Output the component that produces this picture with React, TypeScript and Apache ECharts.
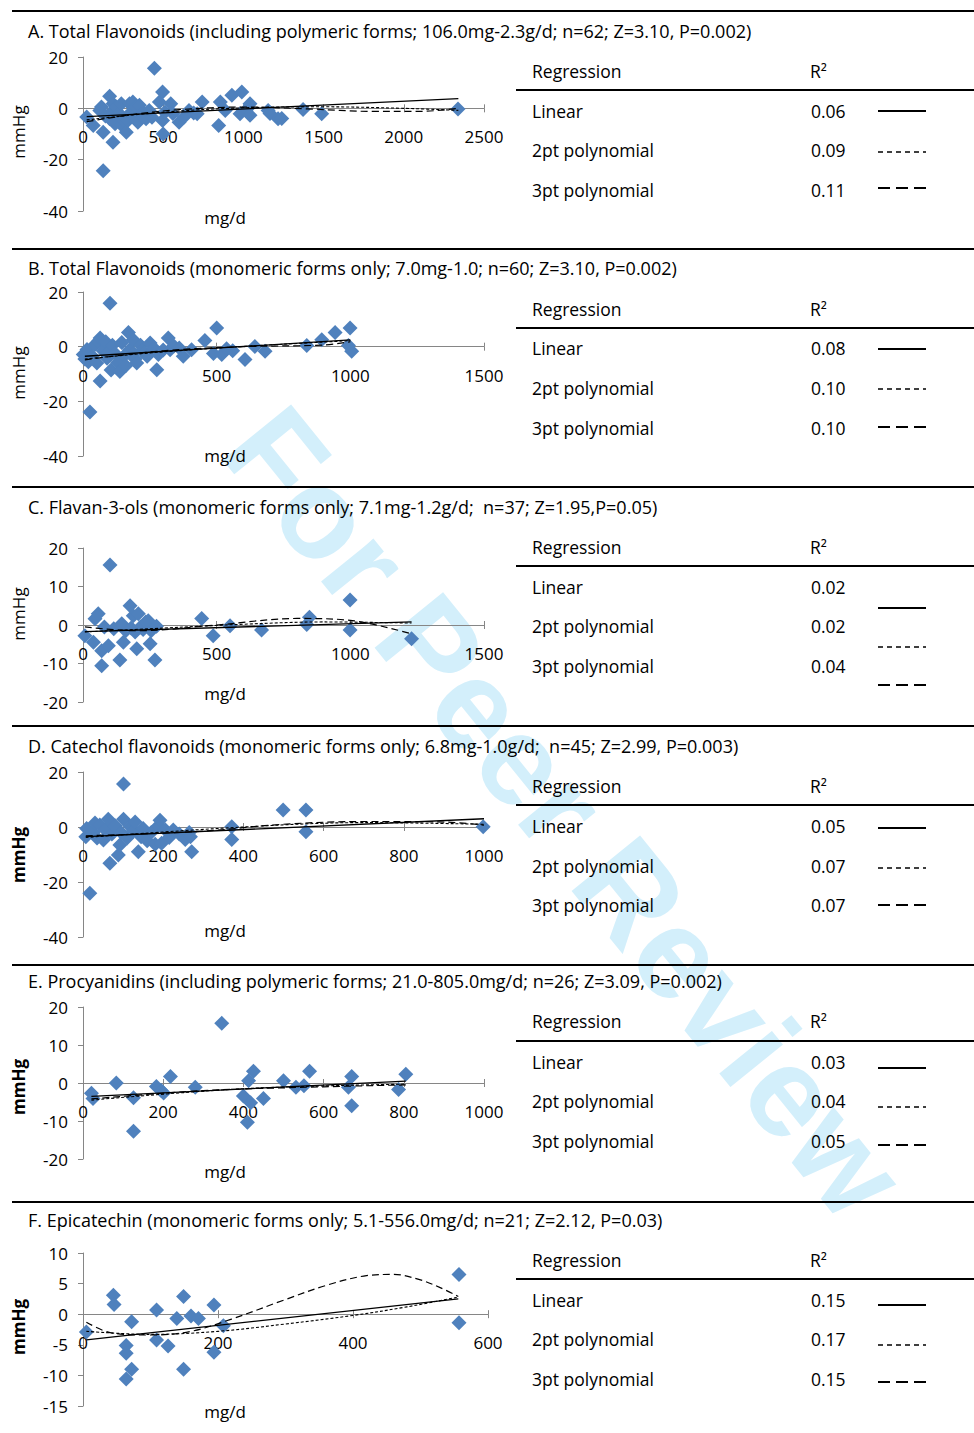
import React, { useEffect, useRef } from "react";
import * as echarts from "echarts";

type Pt = [number, number];

// ---- A. Total flavonoids (incl. polymeric forms) ----
const pointsA: Pt[] = [
  [23, -3.4], [64, -6.7], [105, -0.8], [115, 0.5], [126, -9.3], [126, -24.3], [140, -3], [166, 4.7],
  [166, -4.1], [176, -1.5], [187, -13.2], [187, 1.8], [200, -6], [208, 0.5], [228, -2.1], [239, 1.8],
  [240, -6.5], [250, -4.5], [270, -9.3], [280, -4.7], [290, 1.8], [301, -1.4], [311, 2.5], [320, -3],
  [331, 0.5], [342, -5.4], [352, 1.2], [362, -2.7], [383, -2.1], [393, -4.1], [413, -0.8], [430, -3.5],
  [445, 15.6], [476, 2.5], [496, 6.4], [496, -4.7], [500, -10], [510, -1.5], [547, 1.8], [560, -2],
  [599, -5.4], [630, -3.4], [661, -0.8], [690, -1.8], [712, -2.1], [743, 2.5], [846, -6.7], [856, 2.5],
  [887, -0.8], [928, 5.1], [979, -2.1], [990, 6.4], [1020, -0.5], [1041, 1.8], [1041, -2.7], [1154, -0.8],
  [1166, -2], [1216, -4.1], [1239, -4], [1372, -0.5], [1488, -2.1], [2338, -0.3],
];
const linearA: Pt[] = [[23, -3.2], [2340, 3.8]];
const quadA: Pt[] = [[23, -4.5], [500, -1.5], [1000, 0.2], [1500, 0.6], [2000, 0], [2340, -0.8]];
const cubicA: Pt[] = [[23, -5.2], [300, -2.5], [600, -0.5], [1000, 0.5], [1400, -0.2], [1800, -1.2], [2100, -1.2], [2340, 0]];

// ---- B. Total flavonoids (monomeric forms only) ----
const pointsB: Pt[] = [
  [1, -2.9], [7, -4.5], [15, -1], [20, -5.5], [26, -23.9], [35, -3.5], [45, 0.8], [52, -6], [58, 2],
  [64, 3.2], [64, -12.6], [75, -1.5], [85, 1.8], [90, -4.2], [95, -2], [101, 15.9], [105, -8.5], [110, 0.5],
  [120, -2.5], [130, -5.8], [138, -9.1], [145, 1.5], [155, -3.2], [160, -7], [170, 5.2], [175, -1],
  [185, -3], [188, 2.5], [195, -4.5], [201, -6], [215, 0.5], [220, -1.5], [230, -2], [240, -3.5],
  [251, 1.3], [265, -0.5], [276, -8.4], [282, -2.9], [300, -1.2], [319, 3.2], [326, -1.1], [340, 0.2],
  [360, -0.5], [375, -3.5], [406, -1.1], [456, 2.3], [488, -2.5], [500, 6.8], [519, -2.9], [537, -0.8],
  [560, -1.5], [606, -4.7], [643, 0.1], [681, -1.7], [837, 0.4], [893, 2.5], [943, 5.2], [993, 0.4],
  [999, 6.8], [1005, -1.7],
];
const linearB: Pt[] = [[7, -3.5], [1000, 2.5]];
const quadB: Pt[] = [[7, -4.5], [250, -2.3], [500, -0.5], [750, 0.9], [1000, 2.2]];
const cubicB: Pt[] = [[7, -4.8], [300, -1.5], [600, 0], [900, 0.6], [1000, 1.8]];

// ---- C. Flavan-3-ols (monomeric forms only) ----
const pointsC: Pt[] = [
  [7, -2.8], [39, -4.5], [45, 1.6], [57, 2.9], [70, -10.6], [70, -6.7], [80, -0.5], [95, -5.4], [101, 15.6],
  [115, -1], [138, -9.1], [145, 0.3], [151, -4.5], [160, -1.5], [176, 5.0], [180, -0.8], [188, 2.4],
  [195, -1.8], [201, -6.2], [207, 2.9], [215, -0.5], [225, -1.2], [235, 0.8], [244, 1.1], [251, -4.9],
  [255, -1.5], [269, -9.1], [275, -0.3], [444, 1.7], [487, -2.8], [550, -0.2], [668, -1.3], [837, 0.1],
  [847, 2.0], [999, 6.5], [999, -1.3], [1229, -3.6],
];
const linearC: Pt[] = [[7, -1.7], [1229, 0.8]];
const quadC: Pt[] = [[7, -1.8], [300, -0.8], [600, 0.2], [900, 0.8], [1229, 0.5]];
const cubicC: Pt[] = [[7, -0.5], [200, -1.5], [500, 0], [800, 1.7], [1000, 1.2], [1229, -2.3]];

// ---- D. Catechol flavonoids (monomeric forms only) ----
const pointsD: Pt[] = [
  [7, -3.5], [9, -0.5], [17, -24.1], [25, -2], [30, 1.5], [35, -4], [42, 0.7], [51, -4.7], [55, -1],
  [63, 2.8], [67, -13.2], [72, -2.5], [80, 0.5], [88, -10.2], [92, -6.5], [95, -2], [101, 15.6], [101, 2.8],
  [110, -4], [118, 0.2], [125, -1.5], [130, 1.8], [138, -9], [145, -3.5], [150, -0.5], [160, -5],
  [170, -2], [180, -6.3], [188, 0.5], [192, 2.5], [196, -5.9], [205, -1], [215, -3.8], [225, -1.1],
  [240, -2.5], [255, -4.5], [265, -2], [268, -3.5], [271, -9], [371, 0.1], [371, -4.5], [499, 6.2],
  [556, 6.2], [556, -1.7], [998, 0.1],
];
const linearD: Pt[] = [[7, -3.5], [1000, 3]];
const quadD: Pt[] = [[7, -3.8], [400, 0], [700, 1.6], [1000, 1]];
const cubicD: Pt[] = [[7, -3.2], [300, -1.5], [500, 1], [700, 2], [900, 1.8], [1000, 0.7]];

// ---- E. Procyanidins (incl. polymeric forms) ----
const pointsE: Pt[] = [
  [21, -2.7], [25, -4.1], [83, 0], [126, -3.9], [126, -12.7], [183, -0.9], [195, -2.0], [201, -2.6],
  [218, 1.7], [280, -1.1], [346, 15.7], [400, -3.4], [410, -10.3], [413, 0.6], [418, -5.2], [425, 3.1],
  [450, -4.1], [500, 0.6], [531, -1.1], [551, -0.7], [565, 3.1], [662, -1.1], [670, 1.7], [670, -6],
  [787, -1.7], [805, 2.3],
];
const linearE: Pt[] = [[21, -3.5], [805, 0.5]];
const quadE: Pt[] = [[21, -4.5], [400, -1.5], [805, -0.3]];
const cubicE: Pt[] = [[21, -4.2], [300, -2], [600, -1], [805, -0.5]];

// ---- F. Epicatechin (monomeric forms only) ----
const pointsF: Pt[] = [
  [5, -2.9], [45, 3.1], [46, 1.6], [64, -5.1], [64, -6.4], [64, -10.6], [72, -1.25], [72, -9],
  [109, 0.7], [109, -4.2], [126, -5.2], [139, -0.7], [149, 2.9], [149, -9], [160, -0.3], [171, -0.7],
  [194, 1.5], [194, -6.2], [208, -1.9], [557, 6.5], [557, -1.4],
];
const linearF: Pt[] = [[5, -4.2], [556, 2.5]];
const quadF: Pt[] = [[5, -2.8], [100, -3.3], [200, -2.8], [300, -1.6], [400, -0.2], [480, 1.2], [556, 2.8]];
const cubicF: Pt[] = [
  [5, -1.3], [40, -3], [100, -3.4], [160, -2.8], [220, -0.8], [300, 2.4], [360, 4.7], [420, 6.3],
  [460, 6.5], [500, 5.6], [530, 4.3], [556, 2.9],
];

const titles = [
  "A. Total Flavonoids (including polymeric forms; 106.0mg-2.3g/d; n=62; Z=3.10, P=0.002)",
  "B. Total Flavonoids (monomeric forms only; 7.0mg-1.0; n=60; Z=3.10, P=0.002)",
  "C. Flavan-3-ols (monomeric forms only; 7.1mg-1.2g/d;  n=37; Z=1.95,P=0.05)",
  "D. Catechol flavonoids (monomeric forms only; 6.8mg-1.0g/d;  n=45; Z=2.99, P=0.003)",
  "E. Procyanidins (including polymeric forms; 21.0-805.0mg/d; n=26; Z=3.09, P=0.002)",
  "F. Epicatechin (monomeric forms only; 5.1-556.0mg/d; n=21; Z=2.12, P=0.03)",
];

const regressionNames = ["Linear", "2pt polynomial", "3pt polynomial"];
const rSquaredA = ["0.06", "0.09", "0.11"];
const rSquaredB = ["0.08", "0.10", "0.10"];
const rSquaredC = ["0.02", "0.02", "0.04"];
const rSquaredD = ["0.05", "0.07", "0.07"];
const rSquaredE = ["0.03", "0.04", "0.05"];
const rSquaredF = ["0.15", "0.17", "0.15"];

// axis ranges: [xMax, xInterval, yMin, yMax, yInterval]
const axisA = [2500, 500, -40, 20, 20];
const axisB = [1500, 500, -40, 20, 20];
const axisC = [1500, 500, -20, 20, 10];
const axisD = [1000, 200, -40, 20, 20];
const axisE = [1000, 200, -20, 20, 10];
const axisF = [600, 200, -15, 10, 5];

const panels = [
  { pts: pointsA, lin: linearA, quad: quadA, cub: cubicA, r2: rSquaredA, ax: axisA },
  { pts: pointsB, lin: linearB, quad: quadB, cub: cubicB, r2: rSquaredB, ax: axisB },
  { pts: pointsC, lin: linearC, quad: quadC, cub: cubicC, r2: rSquaredC, ax: axisC },
  { pts: pointsD, lin: linearD, quad: quadD, cub: cubicD, r2: rSquaredD, ax: axisD },
  { pts: pointsE, lin: linearE, quad: quadE, cub: cubicE, r2: rSquaredE, ax: axisE },
  { pts: pointsF, lin: linearF, quad: quadF, cub: cubicF, r2: rSquaredF, ax: axisF },
];

// page layout of each panel (pixels)
const layout = [
  { sep: 11, title: 31, gTop: 57, gBottom: 211, right: 484, reg: 71, hline: 90, rows: [111, 150, 190], samples: [111, 152, 188], mg: 217, mm: 132, bold: false },
  { sep: 249, title: 268, gTop: 292, gBottom: 456, right: 484, reg: 309, hline: 328, rows: [348, 388, 428], samples: [349, 389, 427], mg: 455, mm: 373, bold: false },
  { sep: 487, title: 507, gTop: 548, gBottom: 702, right: 484, reg: 547, hline: 566, rows: [587, 626, 666], samples: [608, 647, 685], mg: 693, mm: 614, bold: false },
  { sep: 726, title: 746, gTop: 772, gBottom: 937, right: 484, reg: 786, hline: 805, rows: [826, 866, 905], samples: [828, 868, 905], mg: 930, mm: 855, bold: true },
  { sep: 965, title: 981, gTop: 1007, gBottom: 1159, right: 484, reg: 1021, hline: 1041, rows: [1062, 1101, 1141], samples: [1068, 1107, 1145], mg: 1171, mm: 1087, bold: true },
  { sep: 1202, title: 1220, gTop: 1253, gBottom: 1406, right: 488, reg: 1260, hline: 1279, rows: [1300, 1339, 1379], samples: [1305, 1345, 1382], mg: 1411, mm: 1327, bold: true },
];

const FONT = '"Open Sans", Lato, sans-serif';
const AXIS_GREY = "#868686";
const MARKER_BLUE = "#4F81BD";

function text(x: number, y: number, s: string, opts: any = {}) {
  const align = opts.align || "left";
  return {
    type: "text",
    x,
    y,
    z: 10,
    rotation: opts.rotation || 0,
    style: {
      text: s,
      fontFamily: opts.fontFamily || FONT,
      fontSize: opts.fontSize || 17,
      fontWeight: opts.fontWeight || "normal",
      fill: opts.fill || "#000",
      textAlign: align,
      align,
      textVerticalAlign: "middle",
      verticalAlign: "middle",
    },
  };
}

function hline(x1: number, x2: number, y: number, width: number, dash?: number[]) {
  return {
    type: "line",
    z: 10,
    shape: { x1, y1: y, x2, y2: y },
    style: { stroke: "#000", lineWidth: width, lineDash: dash || null },
  };
}

export default function App() {
  const ref = useRef<HTMLDivElement>(null);

  useEffect(() => {
    if (!ref.current) return;
    const chart = echarts.init(ref.current, undefined, { renderer: "svg" });

    const grids: any[] = [];
    const xAxes: any[] = [];
    const tickAxes: any[] = [];
    const yAxes: any[] = [];
    const series: any[] = [];
    const graphics: any[] = [];

    // watermark
    graphics.push({
      type: "text",
      x: 565,
      y: 812,
      z: 0,
      rotation: (-51 * Math.PI) / 180,
      style: {
        text: "For Peer Review",
        fontFamily: '"Liberation Sans", Arial, sans-serif',
        fontWeight: "bold",
        fontSize: 128,
        fill: "#d3effb",
        textAlign: "center",
        align: "center",
        textVerticalAlign: "middle",
        verticalAlign: "middle",
      },
    });

    panels.forEach((p, i) => {
      const L = layout[i];
      const [xMax, xInt, yMin, yMax, yInt] = p.ax;
      const h = L.gBottom - L.gTop;
      // lift the horizontal axis from the grid's bottom edge up to the y = 0 line
      const zeroLift = ((0 - yMin) / (yMax - yMin)) * h;
      grids.push({ left: 83, top: L.gTop, width: L.right - 83, height: h, containLabel: false });
      const base = {
        gridIndex: i,
        type: "value",
        position: "bottom",
        offset: -zeroLift,
        min: 0,
        max: xMax,
        interval: xInt,
        splitLine: { show: false },
      };
      xAxes.push({
        ...base,
        axisLine: { show: true, onZero: false, lineStyle: { color: AXIS_GREY, width: 1 } },
        axisTick: { show: true, length: 4, lineStyle: { color: AXIS_GREY } },
        axisLabel: {
          margin: 20,
          fontSize: 17,
          color: "#000",
          fontFamily: FONT,
          formatter: (v: number) => String(v),
        },
      });
      // upper half of the crossing tick marks
      tickAxes.push({
        ...base,
        axisLine: { show: false, onZero: false },
        axisTick: { show: true, inside: true, length: 4, lineStyle: { color: AXIS_GREY } },
        axisLabel: { show: false },
      });
      yAxes.push({
        gridIndex: i,
        type: "value",
        min: yMin,
        max: yMax,
        interval: yInt,
        axisLine: { show: true, onZero: false, lineStyle: { color: AXIS_GREY, width: 1 } },
        axisTick: { show: true, length: 5, lineStyle: { color: AXIS_GREY } },
        axisLabel: { margin: 15, fontSize: 17, color: "#000", fontFamily: FONT },
        splitLine: { show: false },
      });
      series.push({
        type: "scatter",
        xAxisIndex: i,
        yAxisIndex: i,
        data: p.pts,
        symbol: "diamond",
        symbolSize: 15,
        itemStyle: { color: MARKER_BLUE, opacity: 1 },
        z: 3,
      });
      const trend = (data: Pt[], type: any, width: number) => ({
        type: "line",
        xAxisIndex: i,
        yAxisIndex: i,
        data,
        symbol: "none",
        showSymbol: false,
        smooth: 0.35,
        lineStyle: { color: "#000", width, type },
        z: 4,
      });
      series.push(trend(p.lin, "solid", 1.3));
      series.push(trend(p.quad, [3, 2], 1.1));
      series.push(trend(p.cub, [7, 4], 1.2));

      // separator, title, axis names
      graphics.push(hline(12, 974, L.sep, 2));
      graphics.push(text(28, L.title, titles[i], { fontSize: 18 }));
      graphics.push(text(225, L.mg, "mg/d", { align: "center" }));
      graphics.push(
        text(18, L.mm, "mmHg", { align: "center", rotation: Math.PI / 2, fontWeight: L.bold ? "bold" : "normal" })
      );

      // regression table
      graphics.push(text(532, L.reg, "Regression", { fontSize: 17.5 }));
      graphics.push(text(810, L.reg, "R²", { fontSize: 17.5 }));
      graphics.push(hline(516, 974, L.hline, 2));
      const dashes = [null, [5, 4], [12, 6]];
      regressionNames.forEach((name, r) => {
        graphics.push(text(532, L.rows[r], name, { fontSize: 17.5 }));
        graphics.push(text(811, L.rows[r], p.r2[r], { fontSize: 17.5 }));
        graphics.push(hline(878, 926, L.samples[r], r === 1 ? 1.3 : 2, dashes[r] as any));
      });
    });

    chart.setOption({
      animation: false,
      backgroundColor: "#fff",
      grid: grids,
      xAxis: [...xAxes, ...tickAxes],
      yAxis: yAxes,
      series,
      graphic: { elements: graphics },
    });

    return () => chart.dispose();
  }, []);

  return (
    <div
      ref={ref}
      style={{ position: "absolute", left: 0, top: 0, width: 974, height: 1433, background: "#fff" }}
    />
  );
}
